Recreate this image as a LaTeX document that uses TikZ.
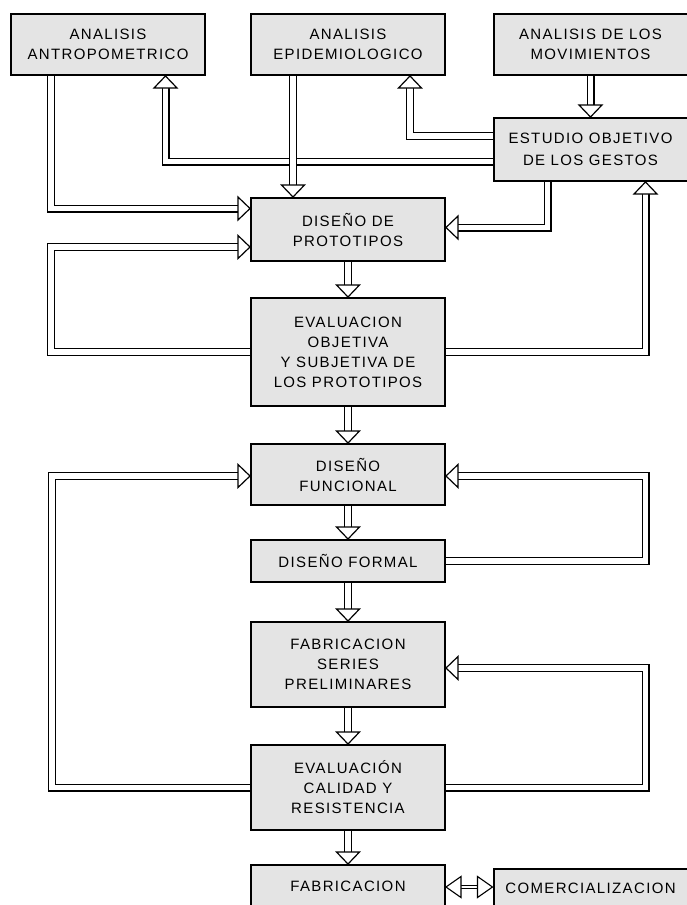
\documentclass[tikz,border=0pt]{standalone}
\usepackage{fontspec}
\setmainfont{Liberation Sans}[LetterSpace=9]
\definecolor{boxgray}{RGB}{228,228,228}
\tikzset{
  box/.style={draw=black, line width=2pt, fill=boxgray, minimum width=194pt,
    inner sep=0pt, align=center, font=\fontsize{15}{20}\selectfont},
  shaft/.style={draw=black, line width=1.2pt, double=white, double distance=5.6pt, line join=miter},
  thinshaft/.style={draw=black, line width=1.1pt, double=white, double distance=2.6pt, line join=miter},
  ahead/.pic={\draw[black, line width=1.2pt, fill=white, line join=miter] (0,0) -- (-12,11.5) -- (-12,-11.5) -- cycle;},
  asmall/.pic={\draw[black, line width=1.1pt, fill=white, line join=miter] (0,0) -- (-15,10.5) -- (-15,-10.5) -- cycle;}
}
\begin{document}
\begin{tikzpicture}[x=1pt,y=-1pt]
\useasboundingbox (0,0) rectangle (687,905);
\clip (0,0) rectangle (687,905);
% boxes
\node[box, minimum height=61pt] (n1) at (108,44.5) {ANALISIS\\ANTROPOMETRICO};
\node[box, minimum height=61pt] (n2) at (348,44.5) {ANALISIS\\EPIDEMIOLOGICO};
\node[box, minimum height=61pt] (n3) at (590.5,44.5) {ANALISIS DE LOS\\MOVIMIENTOS};
\node[box, minimum height=63pt, font=\fontsize{15}{22}\selectfont] (n4) at (590.5,149.5) {ESTUDIO OBJETIVO\\DE LOS GESTOS};
\node[box, minimum height=63pt] (n5) at (348,229.5) {DISEÑO DE\\PROTOTIPOS};
\node[box, minimum height=108pt] (n6) at (348,352) {EVALUACION\\OBJETIVA\\Y SUBJETIVA DE\\LOS PROTOTIPOS};
\node[box, minimum height=61pt] (n7) at (348,474.5) {DISEÑO\\FUNCIONAL};
\node[box, minimum height=42pt] (n8) at (348,561) {DISEÑO FORMAL};
\node[box, minimum height=85pt] (n9) at (348,664.5) {FABRICACION\\SERIES\\PRELIMINARES};
\node[box, minimum height=85pt] (n10) at (348,787.5) {EVALUACIÓN\\CALIDAD Y\\RESISTENCIA};
\node[box, minimum height=43pt] (n11) at (348,886.5) {FABRICACION};
\node[box, minimum height=38pt] (n12) at (590.5,888) {COMERCIALIZACION};
% connectors
\draw[shaft, shorten >=12pt] (n3.south) -- (n3.south |- n4.north);
\pic[rotate=-90] at (n3.south |- n4.north) {ahead};
\draw[shaft, shorten >=12pt] (n4.west |- 0,136) -| (n2.south -| 410,0);
\pic[rotate=90] at (n2.south -| 410,0) {ahead};
\draw[shaft, shorten >=12pt] (n4.west |- 0,161.5) -| (n1.south -| 165.5,0);
\pic[rotate=90] at (n1.south -| 165.5,0) {ahead};
\draw[shaft, shorten >=12pt] (n1.south -| 51,0) |- (n5.west |- 0,208.5);
\pic at (n5.west |- 0,208.5) {ahead};
\draw[shaft, shorten >=12pt] (n2.south -| 293,0) -- (n5.north -| 293,0);
\pic[rotate=-90] at (n5.north -| 293,0) {ahead};
\draw[shaft, shorten >=12pt] (n4.south -| 547.5,0) |- (n5.east |- 0,227.5);
\pic[rotate=180] at (n5.east |- 0,227.5) {ahead};
\draw[shaft, shorten >=12pt] (n5.south) -- (n6.north);
\pic[rotate=-90] at (n6.north) {ahead};
\draw[shaft, shorten >=12pt] (n6.east) -| (n4.south -| 645.5,0);
\pic[rotate=90] at (n4.south -| 645.5,0) {ahead};
\draw[shaft, shorten >=12pt] (n6.west) -| (51,247) -- (n5.west |- 0,247);
\pic at (n5.west |- 0,247) {ahead};
\draw[shaft, shorten >=12pt] (n6.south) -- (n7.north);
\pic[rotate=-90] at (n7.north) {ahead};
\draw[shaft, shorten >=12pt] (n7.south) -- (n8.north);
\pic[rotate=-90] at (n8.north) {ahead};
\draw[shaft, shorten >=12pt] (n8.east) -| (645.5,476) -- (n7.east |- 0,476);
\pic[rotate=180] at (n7.east |- 0,476) {ahead};
\draw[shaft, shorten >=12pt] (n8.south) -- (n9.north);
\pic[rotate=-90] at (n9.north) {ahead};
\draw[shaft, shorten >=12pt] (n9.south) -- (n10.north);
\pic[rotate=-90] at (n10.north) {ahead};
\draw[shaft, shorten >=12pt] (n10.east) -| (645.5,668) -- (n9.east |- 0,668);
\pic[rotate=180] at (n9.east |- 0,668) {ahead};
\draw[shaft, shorten >=12pt] (n10.west) -| (52,476) -- (n7.west |- 0,476);
\pic at (n7.west |- 0,476) {ahead};
\draw[shaft, shorten >=12pt] (n10.south) -- (n11.north);
\pic[rotate=-90] at (n11.north) {ahead};
\draw[thinshaft, shorten >=15pt, shorten <=15pt] (n11.east |- 0,887) -- (n12.west |- 0,887);
\pic at (n12.west |- 0,887) {asmall};
\pic[rotate=180] at (n11.east |- 0,887) {asmall};
\end{tikzpicture}
\end{document}
